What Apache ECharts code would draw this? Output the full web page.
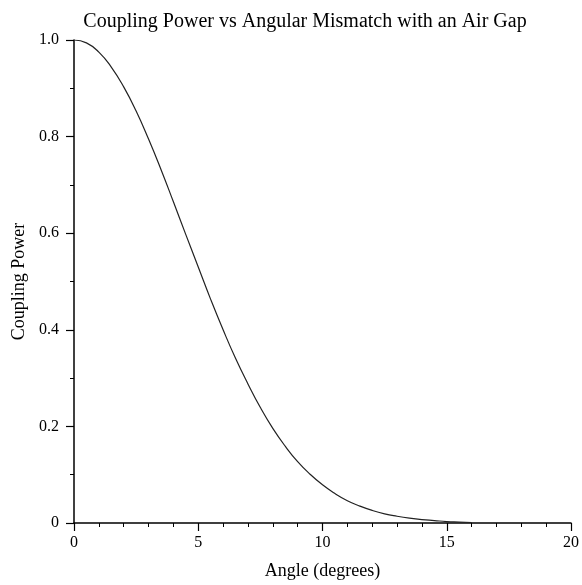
<!DOCTYPE html>
<html>
<head>
<meta charset="utf-8">
<script src="https://cdn.jsdelivr.net/npm/echarts@6/dist/echarts.min.js"></script>
<style>html,body{margin:0;padding:0;background:#fff}#c{width:582px;height:585px}</style>
</head>
<body>
<div id="c"></div>
<script>
const angles = [0,0.5,1,1.5,2,2.5,3,3.5,4,4.5,5,5.5,6,6.5,7,7.5,8,8.5,9,9.5,10,10.5,11,11.5,12,12.5,13,13.5,14,14.5,15,15.5,16];
const power = [1.0,0.994,0.975,0.944,0.903,0.853,0.795,0.732,0.665,0.597,0.530,0.463,0.400,0.341,0.288,0.239,0.196,0.159,0.127,0.101,0.079,0.061,0.046,0.035,0.026,0.019,0.014,0.010,0.007,0.005,0.003,0.002,0.001];
const xTicks = [0,5,10,15,20];
const yTicks = [0,0.2,0.4,0.6,0.8,1.0];
const titleText = 'Coupling Power vs Angular Mismatch with an Air Gap';
const xName = 'Angle (degrees)';
const yName = 'Coupling Power';

const font = 'Liberation Serif';
const chart = echarts.init(document.getElementById('c'), null, {renderer:'canvas'});
chart.setOption({
  animation:false,
  backgroundColor:'#fff',
  title:{text:titleText,left:300,textAlign:'center',top:7,textStyle:{fontFamily:font,fontSize:20,fontWeight:'normal',color:'#000'}},
  grid:{left:74,right:10,top:40,bottom:58,containLabel:false},
  xAxis:{type:'value',min:xTicks[0],max:xTicks[xTicks.length-1],interval:5,
    name:xName,nameLocation:'middle',nameGap:39,nameTextStyle:{fontFamily:font,fontSize:18,color:'#000'},
    axisLine:{lineStyle:{color:'#000',width:1.5}},
    axisTick:{show:true,length:8,lineStyle:{color:'#000',width:1.2}},
    minorTick:{show:true,splitNumber:5,length:4,lineStyle:{color:'#000',width:1}},
    axisLabel:{fontFamily:font,fontSize:16,color:'#000',margin:12},
    splitLine:{show:false}},
  yAxis:{type:'value',min:yTicks[0],max:yTicks[yTicks.length-1],interval:0.2,
    name:yName,nameLocation:'middle',nameGap:46,nameRotate:90,nameTextStyle:{fontFamily:font,fontSize:18,color:'#000'},
    axisLine:{lineStyle:{color:'#000',width:1.5}},
    axisTick:{show:true,length:8,lineStyle:{color:'#000',width:1.2}},
    minorTick:{show:true,splitNumber:2,length:4,lineStyle:{color:'#000',width:1}},
    axisLabel:{fontFamily:font,fontSize:16,color:'#000',margin:15,formatter:v=>v===0?'0':v.toFixed(1)},
    splitLine:{show:false}},
  series:[{type:'line',data:angles.map((a,i)=>[a,power[i]]),smooth:true,showSymbol:false,
    lineStyle:{color:'#222',width:1.2}}]
});
</script>
</body>
</html>
